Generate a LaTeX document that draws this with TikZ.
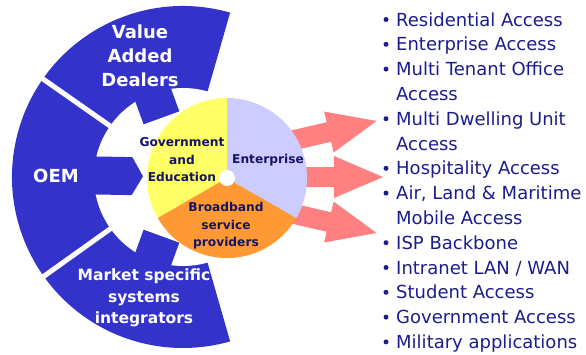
\documentclass[tikz,border=0pt]{standalone}
\usepackage{fontspec}
\setmainfont{DejaVu Sans}
\definecolor{ringblue}{RGB}{51,51,204}
\definecolor{pieyellow}{RGB}{255,255,102}
\definecolor{pielav}{RGB}{204,204,255}
\definecolor{pieorange}{RGB}{255,153,51}
\definecolor{arrowpink}{RGB}{255,128,128}
\definecolor{navytext}{RGB}{20,20,100}
\definecolor{listtext}{RGB}{28,28,140}
\begin{document}
\begin{tikzpicture}[x=1pt,y=1pt,
  ringlabel/.style={text=white, align=center, inner sep=0pt},
  bigring/.style={ringlabel, font=\fontsize{18}{24}\selectfont\bfseries},
  smallring/.style={ringlabel, font=\fontsize{15.5}{21.5}\selectfont\bfseries},
  pielabel/.style={text=navytext, font=\fontsize{12.2}{17.5}\selectfont\bfseries, align=center, inner sep=0pt},
  listitem/.style={text=listtext, font=\fontsize{18}{20}\selectfont, anchor=base west, inner sep=0pt},
  bulletdot/.style={fill=listtext, circle, inner sep=0pt, minimum size=5pt},
  pinkarrow/.style={fill=arrowpink},
  bluepiece/.style={fill=ringblue},
  separator/.style={draw=white, line width=5pt},
]
\useasboundingbox (0,0) rectangle (586,-354);
\coordinate (C) at (183,-177);
\coordinate (P) at (227,-178);
\coordinate (O) at (134,-177);
% blue ring
\fill[ringblue] (C) -- ++(74:171) arc[start angle=74, end angle=286, radius=171] -- cycle;
\fill[white] (C) circle[radius=89];
% inner blue arrows
\begin{scope}[shift={(C)}, rotate=179]
  \fill[bluepiece] (98,19) -- (51,19) -- (40,0) -- (51,-19) -- (98,-19) -- cycle;
\end{scope}
\begin{scope}[shift={(C)}, rotate=110]
  \fill[bluepiece] (98,19) -- (63,19) -- (63,-19) -- (98,-19) -- cycle;
\end{scope}
\begin{scope}[shift={(C)}, rotate=250]
  \fill[bluepiece] (98,19) -- (63,19) -- (63,-19) -- (98,-19) -- cycle;
\end{scope}
% separators
\begin{scope}[shift={(C)}, rotate=145]
  \draw[separator] (82,0) -- (185,0);
\end{scope}
\begin{scope}[shift={(C)}, rotate=215.5]
  \draw[separator] (82,0) -- (185,0);
\end{scope}
% pink arrows
\foreach \ang in {13,0,-13}{
\begin{scope}[shift={(O)}, rotate=\ang]
  \fill[pinkarrow] (120,-10) -- (200,-10) -- (200,-21) -- (249,0) -- (200,21) -- (200,10) -- (120,10) -- cycle;
\end{scope}
}
% pie
\fill[pieyellow] (P) -- ++(90:80) arc[start angle=90, end angle=210, radius=80] -- cycle;
\fill[pieorange] (P) -- ++(210:80) arc[start angle=210, end angle=330, radius=80] -- cycle;
\fill[pielav] (P) -- ++(-30:80) arc[start angle=-30, end angle=90, radius=80] -- cycle;
\fill[white] (P) circle[radius=8];
% ring labels
\node[bigring] (vad) at (140,-56) {Value\\Added\\Dealers};
\node[bigring] (oem) at (56,-176) {OEM};
\node[smallring] (msi) at (144,-298) {Market specific\\systems\\integrators};
% pie labels
\node[pielabel] (gov) at (182,-160) {Government\\and\\Education};
\node[pielabel] (ent) at (268,-160) {Enterprise};
\node[pielabel] (bsp) at (226,-226) {Broadband\\service\\providers};
% list
\node[listitem] (l0) at (396,-26) {Residential Access};
\node[listitem] (l1) at (396,-50.8) {Enterprise Access};
\node[listitem] (l2) at (396,-75.6) {Multi Tenant Office};
\node[listitem] (l3) at (396,-100.4) {Access};
\node[listitem] (l4) at (396,-125.2) {Multi Dwelling Unit};
\node[listitem] (l5) at (396,-150) {Access};
\node[listitem] (l6) at (396,-174.8) {Hospitality Access};
\node[listitem] (l7) at (396,-199.6) {Air, Land \& Maritime};
\node[listitem] (l8) at (396,-224.4) {Mobile Access};
\node[listitem] (l9) at (396,-249.2) {ISP Backbone};
\node[listitem] (l10) at (396,-274) {Intranet LAN / WAN};
\node[listitem] (l11) at (396,-298.8) {Student Access};
\node[listitem] (l12) at (396,-323.6) {Government Access};
\node[listitem] (l13) at (396,-348.4) {Military applications};
\foreach \y/\n in {26/b0,50.8/b1,75.6/b2,125.2/b4,174.8/b6,199.6/b7,249.2/b9,274/b10,298.8/b11,323.6/b12,348.4/b13}{
  \node[bulletdot] (\n) at (386,-\y+6.5) {};
}
\end{tikzpicture}
\end{document}
